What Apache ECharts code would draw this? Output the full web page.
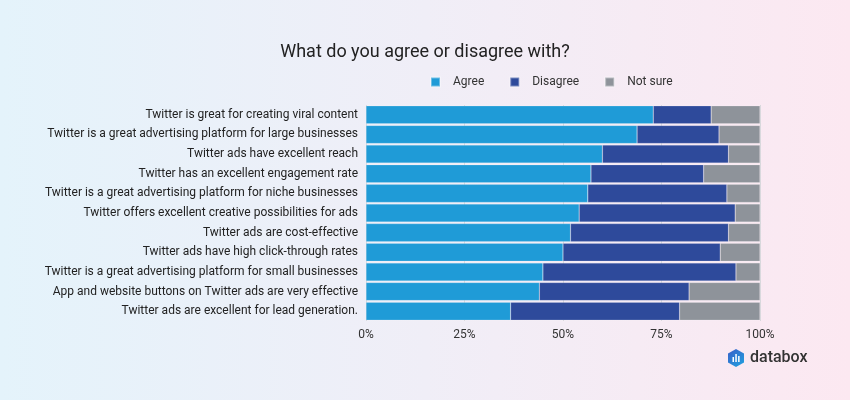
<!DOCTYPE html>
<html><head><meta charset="utf-8">
<script src="https://cdn.jsdelivr.net/npm/echarts@6/dist/echarts.min.js"></script>
<style>html,body{margin:0;padding:0;}#c{width:850px;height:400px;background:linear-gradient(90deg,#e4f3fb 0%,#f0eef7 50%,#fce8f1 100%);}</style>
</head><body><div id="c"></div>
<script>
const categories = [
  "Twitter is great for creating viral content",
  "Twitter is a great advertising platform for large businesses",
  "Twitter ads have excellent reach",
  "Twitter has an excellent engagement rate",
  "Twitter is a great advertising platform for niche businesses",
  "Twitter offers excellent creative possibilities for ads",
  "Twitter ads are cost-effective",
  "Twitter ads have high click-through rates",
  "Twitter is a great advertising platform for small businesses",
  "App and website buttons on Twitter ads are very effective",
  "Twitter ads are excellent for lead generation."
];
const agree    = [72.9, 68.8, 60.0, 57.1, 56.3, 54.1, 51.9, 50.0, 44.9, 44.0, 36.7];
const disagree = [14.7, 20.8, 32.0, 28.6, 35.3, 39.6, 40.1, 39.9, 49.0, 38.0, 42.9];
const notSure  = [12.4, 10.4,  8.0, 14.3,  8.4,  6.3,  8.0, 10.1,  6.1, 18.0, 20.4];
const seriesNames = ["Agree", "Disagree", "Not sure"];
const tickLabels = ["0%", "25%", "50%", "75%", "100%"];

const colors = ["#1f9bd7", "#2e4a9b", "#8e939a"];
const chart = echarts.init(document.getElementById('c'));
const mk = (name, data, i) => ({
  name, type: 'bar', stack: 'all', data,
  barCategoryGap: '8%',
  itemStyle: { color: colors[i], borderColor: 'rgba(255,255,255,0.35)', borderWidth: 0.5 },
  emphasis: { disabled: true }
});
chart.setOption({
  animation: false,
  title: { text: "What do you agree or disagree with?", left: 'center', top: 38,
    textStyle: { fontFamily: 'Roboto', fontSize: 18, fontWeight: 'normal', color: '#222' } },
  legend: { top: 71, left: 425, itemWidth: 9, itemHeight: 9, itemGap: 25, icon: 'rect',
    textStyle: { fontFamily: 'Roboto', fontSize: 12, color: '#333', padding: [0,0,0,8] } },
  grid: { left: 366, right: 90, top: 105, bottom: 79 },
  xAxis: { type: 'value', min: 0, max: 100, interval: 25,
    axisLabel: { formatter: v => tickLabels[v/25], fontFamily: 'Roboto', fontSize: 12, color: '#333', margin: 8 },
    splitLine: { lineStyle: { color: '#d8d8dc' } }, axisLine: { show: false }, axisTick: { show: false } },
  yAxis: { type: 'category', data: categories, inverse: true,
    axisLabel: { fontFamily: 'Roboto', fontSize: 12, color: '#222', margin: 8 },
    axisLine: { show: false }, axisTick: { show: false } },
  series: [mk(seriesNames[0], agree, 0), mk(seriesNames[1], disagree, 1), mk(seriesNames[2], notSure, 2)],
  graphic: [
    { type: 'polygon', shape: { points: [[736,349],[744,353.5],[744,362.5],[736,367],[728,362.5],[728,353.5]] },
      style: { fill: new echarts.graphic.LinearGradient(0,0,1,1,[{offset:0,color:'#3a5fc8'},{offset:1,color:'#1fa3e0'}]) } },
    { type: 'rect', shape: { x: 732.5, y: 357, width: 1.5, height: 5 }, style: { fill: '#fff' } },
    { type: 'rect', shape: { x: 735.3, y: 354, width: 1.5, height: 8 }, style: { fill: '#fff' } },
    { type: 'rect', shape: { x: 738.1, y: 356, width: 1.5, height: 6 }, style: { fill: '#fff' } },
    { type: 'text', left: 750, top: 350, style: { text: 'databox', font: '500 16px Roboto', fill: '#333' } }
  ]
});
</script></body></html>
